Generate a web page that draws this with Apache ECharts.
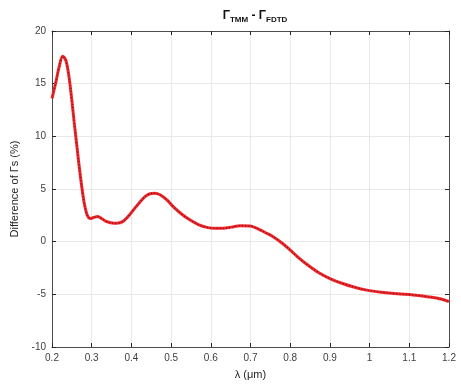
<!DOCTYPE html>
<html>
<head>
<meta charset="utf-8">
<script src="https://cdn.jsdelivr.net/npm/echarts@6/dist/echarts.min.js"></script>
<style>html,body{margin:0;padding:0;background:#fff}#c{width:461px;height:392px}</style>
</head>
<body>
<div id="c"></div>
<script>
const wavelength = [0.2, 0.21, 0.218, 0.227, 0.235, 0.243, 0.25, 0.256, 0.262, 0.268, 0.275, 0.281, 0.287, 0.292, 0.298, 0.305, 0.315, 0.325, 0.335, 0.348, 0.363, 0.378, 0.392, 0.405, 0.42, 0.435, 0.447, 0.459, 0.472, 0.49, 0.506, 0.527, 0.548, 0.57, 0.59, 0.61, 0.631, 0.652, 0.674, 0.699, 0.72, 0.738, 0.757, 0.78, 0.8, 0.816, 0.84, 0.87, 0.9, 0.93, 0.96, 0.993, 1.03, 1.07, 1.11, 1.15, 1.18, 1.2];
const difference = [13.6, 15.2, 16.6, 17.6, 17.2, 15.6, 13.4, 11.3, 9.3, 7.3, 5.2, 3.7, 2.7, 2.3, 2.2, 2.3, 2.4, 2.2, 1.95, 1.8, 1.75, 1.9, 2.4, 3.0, 3.7, 4.3, 4.55, 4.6, 4.45, 3.95, 3.3, 2.6, 2.05, 1.6, 1.36, 1.27, 1.27, 1.38, 1.52, 1.49, 1.2, 0.85, 0.47, -0.15, -0.8, -1.35, -2.1, -2.9, -3.5, -3.95, -4.3, -4.6, -4.8, -4.95, -5.06, -5.25, -5.45, -5.7];
const xTicks = [0.2, 0.3, 0.4, 0.5, 0.6, 0.7, 0.8, 0.9, 1, 1.1, 1.2];
const yTicks = [-10, -5, 0, 5, 10, 15, 20];

const pts = wavelength.map((x, i) => [x, difference[i]]);
const chart = echarts.init(document.getElementById('c'));
const axisCol = '#262626';
const lbl = {color: '#404040', fontSize: 10, fontFamily: 'Liberation Sans'};
chart.setOption({
  animation: false,
  title: {
    text: '{g|Γ}{s|TMM}{g| - Γ}{s|FDTD}',
    left: 250, top: 3, textAlign: 'center',
    textStyle: {
      rich: {
        g: {fontSize: 12, fontWeight: 'bold', color: '#111', fontFamily: 'Liberation Sans'},
        s: {fontSize: 8, fontWeight: 'bold', color: '#111', fontFamily: 'Liberation Sans', padding: [8, 0, 0, 0]}
      }
    }
  },
  grid: {left: 52, right: 12, top: 31, bottom: 45, show: false},
  xAxis: [{
    type: 'value', min: 0.2, max: 1.2, interval: 0.1,
    name: 'λ (μm)', nameLocation: 'middle', nameGap: 22,
    nameTextStyle: {color: '#262626', fontSize: 11, fontFamily: 'Liberation Sans'},
    axisLine: {show: true, onZero: false, lineStyle: {color: axisCol, width: 0.8}},
    axisTick: {show: true, inside: true, length: 4, lineStyle: {color: axisCol}},
    axisLabel: Object.assign({margin: 6, formatter: v => {const t = xTicks.find(k => Math.abs(k - v) < 1e-6); return t === undefined ? '' : String(t);}}, lbl),
    splitLine: {show: true, lineStyle: {color: '#e3e3e3', width: 0.8}}
  }, {
    type: 'value', min: 0.2, max: 1.2, interval: 0.1, position: 'top',
    axisLine: {show: true, onZero: false, lineStyle: {color: axisCol, width: 0.8}},
    axisTick: {show: true, inside: true, length: 4, lineStyle: {color: axisCol}},
    axisLabel: {show: false}, splitLine: {show: false}
  }],
  yAxis: [{
    type: 'value', min: -10, max: 20, interval: 5,
    name: 'Difference of Γs (%)', nameLocation: 'middle', nameGap: 30,
    nameTextStyle: {color: '#262626', fontSize: 11, fontFamily: 'Liberation Sans'},
    axisLine: {show: true, onZero: false, lineStyle: {color: axisCol, width: 0.8}},
    axisTick: {show: true, inside: true, length: 4, lineStyle: {color: axisCol}},
    axisLabel: Object.assign({margin: 6, formatter: v => yTicks.includes(v) ? String(v) : ''}, lbl),
    splitLine: {show: true, lineStyle: {color: '#e3e3e3', width: 0.8}}
  }, {
    type: 'value', min: -10, max: 20, interval: 5, position: 'right',
    axisLine: {show: true, onZero: false, lineStyle: {color: axisCol, width: 0.8}},
    axisTick: {show: true, inside: true, length: 4, lineStyle: {color: axisCol}},
    axisLabel: {show: false}, splitLine: {show: false}
  }],
  series: [{
    type: 'line', data: pts, smooth: 0.35, symbol: 'none',
    lineStyle: {color: '#f0282d', width: 3}
  }, {
    type: 'line', data: pts, smooth: 0.35, symbol: 'none',
    lineStyle: {color: '#8a1010', width: 1.2, type: [1.2, 2]}
  }]
});
</script>
</body>
</html>
